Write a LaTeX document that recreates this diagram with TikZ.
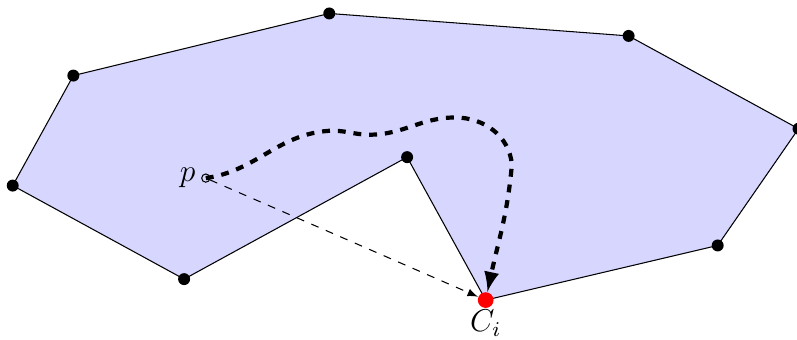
\documentclass[tikz,border=0pt]{standalone}
\begin{document}
\begin{tikzpicture}[>=latex, font=\large]
  \useasboundingbox (0,0) rectangle (10.65,4.54);
  % polygon vertices
  \coordinate (v1) at (0.17,2.06);
  \coordinate (v2) at (0.98,3.53);
  \coordinate (v3) at (4.40,4.36);
  \coordinate (v4) at (8.40,4.06);
  \coordinate (v5) at (10.67,2.82);
  \coordinate (v6) at (9.59,1.26);
  \coordinate (v7) at (6.49,0.53);
  \coordinate (v8) at (5.44,2.44);
  \coordinate (v9) at (2.46,0.81);
  \filldraw[fill=blue!16] (v1) -- (v2) -- (v3) -- (v4) -- (v5) -- (v6) -- (v7) -- (v8) -- (v9) -- cycle;
  \foreach \v in {v1,v2,v3,v4,v5,v6,v8,v9}
    \fill (\v) circle (0.08);
  \node[circle, fill=red, inner sep=0pt, minimum size=0.21cm] (ci) at (v7) {};
  \node[below, inner sep=0.5pt] (cilabel) at (ci.south) {$C_i$};
  \node[circle, draw, inner sep=0pt, minimum size=0.11cm] (p) at (2.75,2.16) {};
  \node[left, inner sep=2pt] (plabel) at (p.west) {$p$};
  % path inside the polygon
  \coordinate (w1) at (4.37,2.79);
  \coordinate (w2) at (4.94,2.74);
  \coordinate (w3) at (6.08,2.97);
  \coordinate (w4) at (6.84,2.34);
  \draw[ultra thick, dashed, ->] (p.center) to[out=8,in=185] (w1) to[out=5,in=180] (w2)
    to[out=0,in=180] (w3) to[out=0,in=95] (w4) to[out=265,in=78] (ci);
  \draw[dashed, ->] (p) -- (ci);
\end{tikzpicture}
\end{document}
